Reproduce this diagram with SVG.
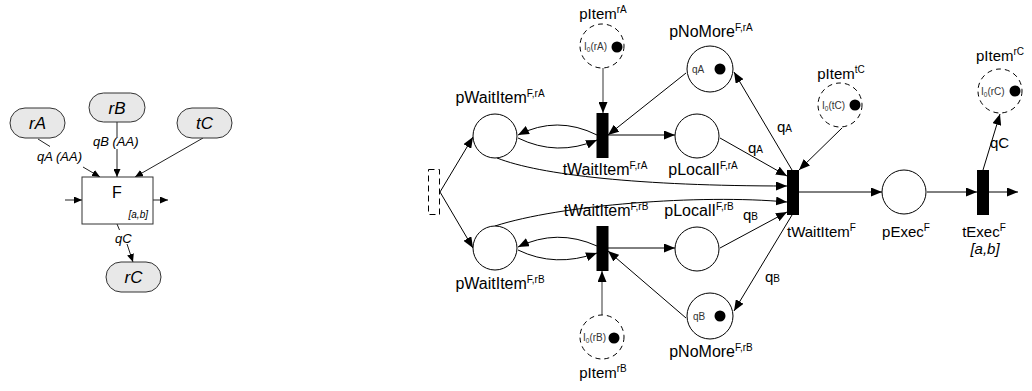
<svg xmlns="http://www.w3.org/2000/svg" width="1032" height="391" viewBox="0 0 1032 391">
<defs>
<style>
text { font-family: "Liberation Sans", Arial, sans-serif; fill:#000; }
.pill { fill:#e8e8e8; stroke:#333; stroke-width:1; }
.box { fill:#fff; stroke:#333; stroke-width:1; }
.ln { fill:none; stroke:#222; stroke-width:1; }
.lnA { fill:none; stroke:#222; stroke-width:1; marker-end:url(#arrS); }
.arc { fill:none; stroke:#000; stroke-width:1; marker-end:url(#arr); }
.gray { fill:none; stroke:#777; stroke-width:1.5; marker-end:url(#arrG); }
.place { fill:#fff; stroke:#000; stroke-width:1; }
.dplace { fill:#fff; stroke:#000; stroke-width:1; stroke-dasharray:5 4; }
.dbox { fill:none; stroke:#000; stroke-width:1; stroke-dasharray:6 4; }
.trans { fill:#000; }
.tok { fill:#000; }
.lbl { font-size:16px; text-anchor:middle; }
.lbl2 { font-size:15px; text-anchor:middle; }
.sup { font-size:10px; }
.in { font-size:10px; fill:#333; }
.q { font-size:15px; }
.qs { font-size:10px; }
.it { font-style:italic; }
.pl { font-size:17px; font-style:italic; text-anchor:middle; }
.el { font-size:13px; font-style:italic; }
</style>
<marker id="arr" markerUnits="userSpaceOnUse" markerWidth="11" markerHeight="9" refX="11" refY="4.5" orient="auto"><path d="M0,0 L11,4.5 L0,9 z" fill="#000"/></marker>
<marker id="arrG" markerUnits="userSpaceOnUse" markerWidth="11" markerHeight="9" refX="11" refY="4.5" orient="auto"><path d="M0,0 L11,4.5 L0,9 z" fill="#000"/></marker>
<marker id="arrS" markerUnits="userSpaceOnUse" markerWidth="8" markerHeight="7" refX="8" refY="3.5" orient="auto"><path d="M0,0 L8,3.5 L0,7 z" fill="#000"/></marker>
</defs>

<!-- ===== Left diagram ===== -->
<g id="left-connectors">
  <line class="ln" x1="38" y1="139" x2="50" y2="146.5"/>
  <line class="lnA" x1="83" y1="167" x2="100" y2="177"/>
  <line class="ln" x1="117" y1="122" x2="117" y2="137"/>
  <line class="lnA" x1="117" y1="149" x2="117" y2="177"/>
  <line class="lnA" x1="203" y1="138" x2="135" y2="177"/>
  <line class="ln" x1="117" y1="224" x2="119.5" y2="230"/>
  <line class="lnA" x1="127" y1="244" x2="133" y2="262"/>
  <line class="lnA" x1="65" y1="200" x2="82" y2="200"/>
  <line class="lnA" x1="153" y1="200" x2="168" y2="200"/>
  <text class="el" x="37" y="161">qA (AA)</text>
  <text class="el" x="93" y="146">qB (AA)</text>
  <text class="el" x="115" y="243">qC</text>
</g>
<g id="rA"><rect class="pill" x="10" y="108" width="55" height="30" rx="15"/><text class="pl" x="37.5" y="129">rA</text></g>
<g id="rB"><rect class="pill" x="89" y="93" width="56" height="29" rx="14.5"/><text class="pl" x="117" y="114">rB</text></g>
<g id="tC"><rect class="pill" x="177" y="108" width="55" height="30" rx="15"/><text class="pl" x="204.5" y="129">tC</text></g>
<g id="F"><rect class="box" x="82" y="177" width="71" height="47"/><text x="117" y="198" font-size="16" text-anchor="middle">F</text><text class="it" x="148" y="218" font-size="10" text-anchor="end">[a,b]</text></g>
<g id="rC"><rect class="pill" x="106" y="262" width="55" height="30" rx="15"/><text class="pl" x="133.5" y="283">rC</text></g>

<!-- ===== Right diagram connectors ===== -->
<g id="connectors">
  <line class="arc" x1="440" y1="192" x2="473" y2="137"/>
  <line class="arc" x1="440" y1="192" x2="473" y2="248"/>
  <path class="arc" d="M597,135 Q557,115 518,135"/>
  <path class="arc" d="M518,138 Q557,157 597,140"/>
  <path class="arc" d="M597,246 Q557,228 518,247"/>
  <path class="arc" d="M518,250 Q555,268 597,253"/>
  <line class="arc" x1="608" y1="135" x2="675" y2="135"/>
  <line class="arc" x1="608" y1="248" x2="675" y2="248"/>
  <line class="arc" x1="686" y1="73" x2="608" y2="135"/>
  <line class="arc" x1="686" y1="318" x2="608" y2="251"/>
  <line class="gray" x1="603" y1="68" x2="603" y2="113"/>
  <line class="gray" x1="602" y1="315" x2="602" y2="271"/>
  <path class="arc" d="M497,158 C540,175 640,186 787,186"/>
  <path class="arc" d="M495,226 C560,205 700,194 787,202"/>
  <line class="arc" x1="720" y1="138" x2="787" y2="176"/>
  <line class="arc" x1="720" y1="248" x2="787" y2="212"/>
  <line class="arc" x1="792" y1="170" x2="734" y2="72"/>
  <line class="arc" x1="792" y1="215" x2="734" y2="311"/>
  <line class="arc" x1="842" y1="128" x2="799" y2="170"/>
  <line class="arc" x1="799" y1="192" x2="882" y2="192"/>
  <line class="arc" x1="927" y1="192" x2="977" y2="192"/>
  <line class="arc" x1="989" y1="192" x2="1018" y2="192"/>
  <line class="arc" x1="983" y1="170" x2="1000" y2="114"/>
  <text x="777" y="132"><tspan class="q">q</tspan><tspan class="qs">A</tspan></text>
  <text x="748" y="153"><tspan class="q">q</tspan><tspan class="qs">A</tspan></text>
  <text x="743" y="220"><tspan class="q">q</tspan><tspan class="qs">B</tspan></text>
  <text x="765" y="282"><tspan class="q">q</tspan><tspan class="qs">B</tspan></text>
  <text class="q" x="990" y="148">qC</text>
</g>

<!-- ===== Right diagram nodes ===== -->
<g id="start"><rect class="dbox" x="428.5" y="169.5" width="11" height="45"/></g>

<g id="pWaitItemA"><circle class="place" cx="495" cy="136" r="22"/><text class="lbl" x="500" y="103">pWaitItem<tspan class="sup" dy="-6">F,rA</tspan></text></g>
<g id="pWaitItemB"><circle class="place" cx="495" cy="248" r="22"/><text class="lbl" x="500" y="289">pWaitItem<tspan class="sup" dy="-6">F,rB</tspan></text></g>

<g id="tWaitItemA"><rect class="trans" x="596.5" y="113" width="12" height="45"/><text class="lbl" x="605" y="175">tWaitItem<tspan class="sup" dy="-6">F,rA</tspan></text></g>
<g id="tWaitItemB"><rect class="trans" x="596.5" y="226" width="12" height="45"/><text class="lbl" x="606" y="216">tWaitItem<tspan class="sup" dy="-6">F,rB</tspan></text></g>

<g id="pItemA"><circle class="dplace" cx="602" cy="46" r="22"/><text class="in" x="584" y="50">I<tspan font-size="6.5" dy="2">0</tspan><tspan dy="-2">(rA)</tspan></text><circle class="tok" cx="617" cy="47" r="5.5"/><text class="lbl2" x="603" y="19">pItem<tspan class="sup" dy="-6">rA</tspan></text></g>
<g id="pItemB"><circle class="dplace" cx="602" cy="337" r="22"/><text class="in" x="583" y="341">I<tspan font-size="6.5" dy="2">0</tspan><tspan dy="-2">(rB)</tspan></text><circle class="tok" cx="614" cy="338" r="5.5"/><text class="lbl2" x="603" y="378">pItem<tspan class="sup" dy="-6">rB</tspan></text></g>

<g id="pNoMoreA"><circle class="place" cx="710" cy="69" r="23"/><text class="in" x="692" y="73" font-size="11">qA</text><circle class="tok" cx="720" cy="69" r="5.5"/><text class="lbl" x="711" y="37">pNoMore<tspan class="sup" dy="-6">F,rA</tspan></text></g>
<g id="pNoMoreB"><circle class="place" cx="710" cy="316" r="23"/><text class="in" x="693" y="320" font-size="11">qB</text><circle class="tok" cx="720" cy="316" r="5.5"/><text class="lbl" x="711" y="357">pNoMore<tspan class="sup" dy="-6">F,rB</tspan></text></g>

<g id="pLocalA"><circle class="place" cx="697" cy="136" r="22"/><text class="lbl" x="703" y="175">pLocalI<tspan class="sup" dy="-6">F,rA</tspan></text></g>
<g id="pLocalB"><circle class="place" cx="697" cy="249" r="22"/><text class="lbl" x="699" y="216">pLocalI<tspan class="sup" dy="-6">F,rB</tspan></text></g>

<g id="tWaitItemF"><rect class="trans" x="787" y="170" width="12" height="45"/><text x="787" y="237" font-size="15">tWaitItem<tspan class="sup" dy="-6">F</tspan></text></g>
<g id="pItemTC"><circle class="dplace" cx="840" cy="105" r="22"/><text class="in" x="822" y="109">I<tspan font-size="6.5" dy="2">0</tspan><tspan dy="-2">(tC)</tspan></text><circle class="tok" cx="855" cy="105" r="5.5"/><text class="lbl2" x="841" y="79">pItem<tspan class="sup" dy="-6">tC</tspan></text></g>

<g id="pExec"><circle class="place" cx="904" cy="192" r="22"/><text class="lbl2" x="906" y="237">pExec<tspan class="sup" dy="-6">F</tspan></text></g>
<g id="tExec"><rect class="trans" x="977" y="170" width="12" height="45"/><text class="lbl2" x="984" y="237">tExec<tspan class="sup" dy="-6">F</tspan></text><text class="lbl2 it" x="985" y="254">[a,b]</text></g>
<g id="pItemRC"><circle class="dplace" cx="1000" cy="91" r="22"/><text class="in" x="981" y="95">I<tspan font-size="6.5" dy="2">0</tspan><tspan dy="-2">(rC)</tspan></text><circle class="tok" cx="1015" cy="91" r="5.5"/><text class="lbl2" x="1000" y="61">pItem<tspan class="sup" dy="-6">rC</tspan></text></g>
</svg>
